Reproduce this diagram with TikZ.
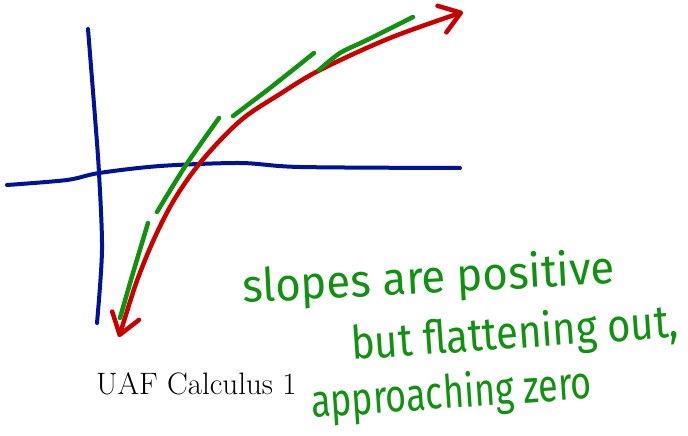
\documentclass[tikz,border=0pt]{standalone}
\usepackage{fontspec}
\usetikzlibrary{arrows.meta}
\newfontfamily\handfont{Fira Sans}
\definecolor{axisblue}{RGB}{0,18,150}
\definecolor{curvered}{RGB}{200,0,0}
\definecolor{slopegreen}{RGB}{16,145,16}

\begin{document}
\begin{tikzpicture}[x=1pt,y=-1pt,
  >={Straight Barb[length=20pt,width=28pt,line width=4.5pt,round]},
  axis/.style={draw=axisblue,line width=4pt,line cap=round,line join=round},
  curve/.style={draw=curvered,line width=4.5pt,line cap=round,<->},
  tanline/.style={draw=slopegreen,line width=4.5pt,line cap=round},
  note/.style={text=slopegreen,font=\handfont\fontsize{46}{46}\selectfont,anchor=base west,inner sep=0pt}]
\useasboundingbox (0,0) rectangle (688,436);
\draw[axis] plot[smooth] coordinates {(88,29) (95,117) (99,173) (102,250) (97,323)};
\draw[axis] plot[smooth] coordinates {(7,185) (67,180) (99,173) (160,166) (240,163) (300,167) (460,168)};
\draw[curve] plot[smooth,tension=0.55] coordinates {(119,337) (143,265) (170,207) (200,163) (240,121) (280,94) (320,70) (390,38) (463,12)};
\foreach \seg in {{(120,318) (133,273) (148,223)},{(157,212) (186,165) (219,118)},{(233,116) (270,88) (314,53)},{(319,70) (340,53) (367,40) (413,17)}}
  \draw[tanline] plot[smooth] coordinates \seg;
\node[note,rotate=3] (slopes) at (243,303) {\scalebox{0.95}[1]{slopes are positive}};
\node[note,rotate=4] (flat) at (352,360) {\scalebox{0.87}[1]{but flattening out,}};
\node[note,rotate=4] (zero) at (312,418) {\scalebox{0.78}[1]{approaching zero}};
\node[font=\fontsize{31}{33}\selectfont,anchor=base west,inner sep=0pt] (course) at (96,394) {UAF Calculus 1};
\end{tikzpicture}
\end{document}
